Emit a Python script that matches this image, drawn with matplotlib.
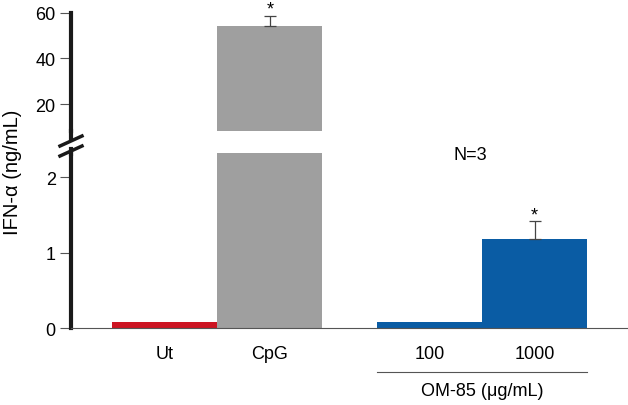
import matplotlib
matplotlib.use('Agg')
import matplotlib.pyplot as plt
from matplotlib.lines import Line2D

plt.rcParams['font.family'] = ['Liberation Sans', 'DejaVu Sans']

# data
groups = ['Ut', 'CpG', '100', '1000']
xpos = [0, 1, 2.52, 3.52]
values = [0.09, 54.0, 0.09, 1.19]      # ng/mL
errors = [0, 4.6, 0, 0.23]
stars = [False, True, False, True]
colors = ['#cc1422', '#9f9f9f', '#0a5ca4', '#0a5ca4']
low_lim = 2.32
high_lim = (8.3, 60)

W, H = 628, 406
fig = plt.figure(figsize=(W / 100, H / 100), dpi=100)

def fr(x0, y0, x1, y1):
    return [x0 / W, 1 - y1 / H, (x1 - x0) / W, (y1 - y0) / H]

ax_hi = fig.add_axes(fr(71, 13.5, 628, 132.3))
ax_lo = fig.add_axes(fr(71, 154.3, 628, 329.3))

for ax in (ax_hi, ax_lo):
    ax.bar(xpos, values, width=1.0, color=colors, align='center')
    ax.set_xlim(-0.895, 4.41)
    for s in ('top', 'right'):
        ax.spines[s].set_visible(False)
    ax.spines['left'].set_linewidth(3)
    ax.spines['left'].set_color('#1a1a1a')
    ax.tick_params(axis='y', length=8, width=0.8, color='#555555',
                   labelsize=13, pad=3)

ax_hi.set_ylim(*high_lim)
ax_hi.set_yticks([20, 40, 60])
ax_hi.spines['bottom'].set_visible(False)
ax_hi.set_xticks([])

ax_lo.set_ylim(0, low_lim)
ax_lo.set_yticks([0, 1, 2])
ax_lo.spines['bottom'].set_linewidth(0.8)
ax_lo.spines['bottom'].set_color('#555555')
ax_lo.set_xticks(xpos)
ax_lo.set_xticklabels(groups)
ax_lo.tick_params(axis='x', length=0, labelsize=13, pad=12)

# error bars and significance stars
for x, v, e, s in zip(xpos, values, errors, stars):
    ax = ax_hi if v > low_lim else ax_lo
    if e > 0:
        ax.errorbar(x, v, yerr=[[0], [e]], color='#444444', elinewidth=0.9,
                    capsize=4, capthick=0.9)
    if s:
        ax.annotate('*', (x, v + e), xytext=(0, 1.5), textcoords='offset points',
                    ha='center', va='baseline', fontsize=13)

# axis break
fig.add_artist(Line2D([71 / W, 71 / W], [1 - 132 / H, 1 - 140 / H], lw=3, color='#1a1a1a'))
fig.add_artist(Line2D([71 / W, 71 / W], [1 - 150 / H, 1 - 155 / H], lw=3, color='#1a1a1a'))
for y in (142, 152):
    fig.add_artist(Line2D([60 / W, 82 / W], [1 - (y + 5) / H, 1 - (y - 5) / H],
                          lw=2.5, color='#1a1a1a'))

fig.text(13 / W, 1 - 172 / H, 'IFN-\u03b1 (ng/mL)', rotation=90,
         ha='center', va='center', fontsize=14.5)
fig.text(470 / W, 1 - 156 / H, 'N=3', ha='center', va='center', fontsize=13)

# OM-85 group bracket
fig.add_artist(Line2D([377 / W, 587 / W], [1 - 373 / H, 1 - 373 / H], lw=0.8, color='#555555'))
fig.text(482 / W, 1 - 392 / H, 'OM-85 (\u03bcg/mL)', ha='center', va='center', fontsize=13)

fig.savefig('out.png', dpi=100)
